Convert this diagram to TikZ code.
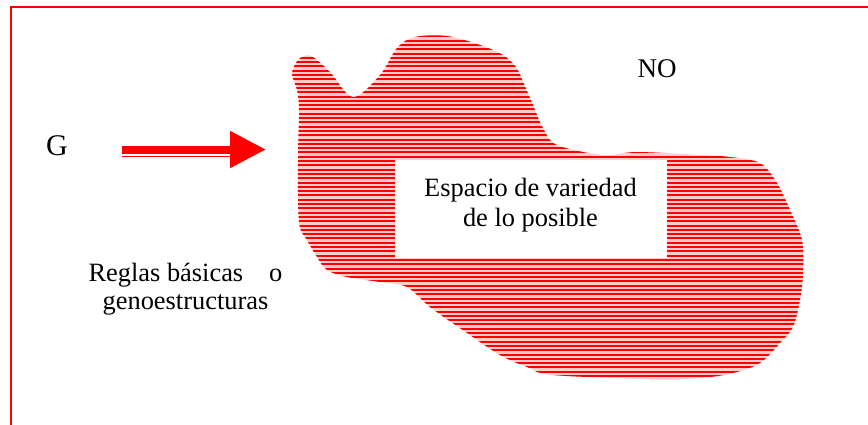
\documentclass[tikz,border=0pt]{standalone}
\usepackage{fontspec}
\setmainfont{Liberation Serif}
\usetikzlibrary{arrows.meta}

\begin{document}
\begin{tikzpicture}[x=0.5pt, y=-0.5pt, nodes={inner sep=0pt}, raya/.style={red, line width=1pt}, texto/.style={font=\fontsize{13.2}{15}\selectfont, align=center}]
	\useasboundingbox (0,0) rectangle (868,424);
	\clip (0,0) rectangle (868,424);
	\draw[red, line width=1pt] (11,7) rectangle (900,460); % only top and left edges show

	% espacio de lo posible, rayado horizontal
	\path[save path=\contorno] plot[smooth cycle, tension=0.55] coordinates {(292,73) (299,59) (311,56) (330,72) (353,97) (380,75) (397,48) (415,37) (447,36) (480,45) (503,55) (516,67) (524,84) (533,105) (543,128) (557,145) (603,155) (637,152) (700,155) (730,157) (760,163) (777,183) (790,210) (802,240) (803,273) (800,300) (793,327) (780,343) (760,363) (733,373) (700,378) (650,379) (553,375) (527,367) (500,355) (467,333) (430,307) (407,287) (380,282) (347,277) (327,270) (317,257) (307,240) (299,222) (298,160) (299,110) (297,90)};
	\begin{scope}
		\fill[red!20, use path=\contorno];
		\clip[use path=\contorno];
		\foreach \h in {32,36.3,...,384}
			\draw[raya] (280,\h) -- (820,\h);
	\end{scope}

	\node[fill=white, minimum width=136pt, minimum height=49pt] (hueco) at (531,209) {};
	\node[texto] (espacio) at (530.5,205) {Espacio de variedad\\de lo posible};

	\node[font=\fontsize{15}{18}\selectfont, anchor=base] (g) at (57,155) {G};
	\node[font=\fontsize{13.5}{16}\selectfont, anchor=base] (no) at (657,77) {NO};
	\node[font=\fontsize{13.2}{14}\selectfont, align=center] (reglas) at (185.5,289) {Reglas básicas\hspace{13pt}o\\genoestructuras};

	\coordinate (cola) at (122,149.5);
	\coordinate (punta) at (266,149.5);
	\draw[red, line width=4pt, -{Triangle[length=18pt, width=17.5pt]}] (cola) -- (punta);
	\draw[red, line width=0.8pt] (cola) ++(0,7) -- ++(108,0);
\end{tikzpicture}
\end{document}
